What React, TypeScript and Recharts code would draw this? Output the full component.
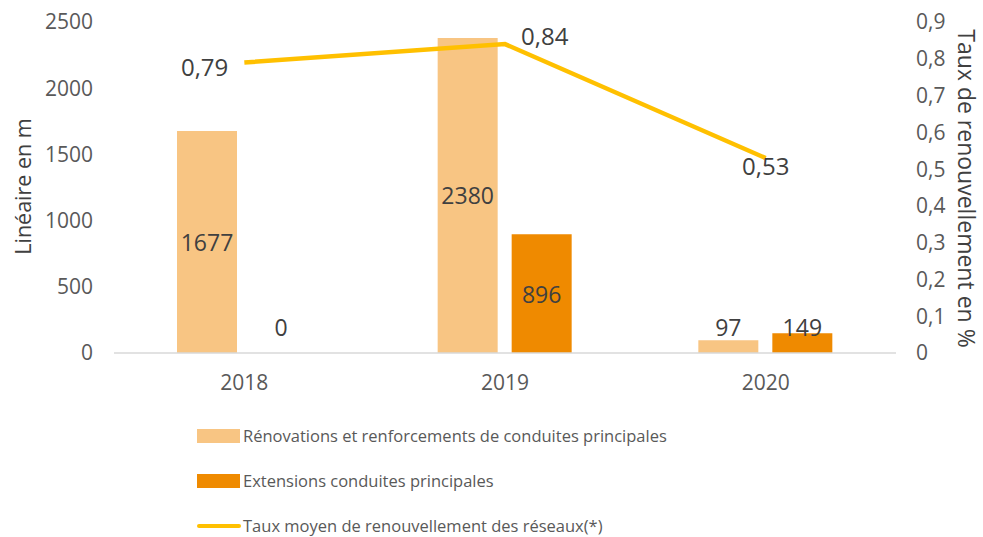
import React from 'react';
import { ComposedChart, Bar, Line, XAxis, YAxis, Legend, LabelList } from 'recharts';

const years = ['2018', '2019', '2020'];
const renovations = [1677, 2380, 97];
const extensions = [0, 896, 149];
const taux = [0.79, 0.84, 0.53];
const leftTicks = [0, 500, 1000, 1500, 2000, 2500];
const rightTicks = [0, 0.1, 0.2, 0.3, 0.4, 0.5, 0.6, 0.7, 0.8, 0.9];
const lineLabelPlacement = ['left', 'right', 'below'];

const seriesNames = {
  renovations: 'Rénovations et renforcements de conduites principales',
  extensions: 'Extensions conduites principales',
  taux: 'Taux moyen de renouvellement des réseaux(*)',
};

const data = years.map((year, i) => ({
  year,
  renovations: renovations[i],
  extensions: extensions[i],
  taux: taux[i],
}));

const FONT = "'Open Sans', 'Noto Sans', sans-serif";
const LIGHT = '#F8C583';
const DARK = '#EF8A00';
const YELLOW = '#FFC000';

const fmtComma = (v: number) => String(v).replace('.', ',');

const BarLabel = (props: any) => {
  const { x, y, width, height, value } = props;
  const bottom = Number(y) + Number(height);
  const cy = Math.min(Number(y) + Number(height) / 2, bottom - 26);
  return (
    <text
      x={Number(x) + Number(width) / 2}
      y={cy}
      textAnchor="middle"
      dominantBaseline="central"
      fill="#404040"
      fontSize={23}
      fontFamily={FONT}
    >
      {value}
    </text>
  );
};

const LineLabel = (props: any) => {
  const { x, y, value, index } = props;
  const place = lineLabelPlacement[index];
  let tx = Number(x);
  let ty = Number(y);
  let anchor: 'start' | 'middle' | 'end' = 'middle';
  if (place === 'left') {
    tx -= 16;
    ty += 4;
    anchor = 'end';
  } else if (place === 'right') {
    tx += 16;
    ty -= 9;
    anchor = 'start';
  } else {
    ty += 7;
  }
  return (
    <text
      x={tx}
      y={ty}
      textAnchor={anchor}
      dominantBaseline="central"
      fill="#404040"
      fontSize={24}
      fontFamily={FONT}
    >
      {fmtComma(value)}
    </text>
  );
};

const LegendContent = () => {
  const rows = [
    { key: 'renovations', type: 'rect', color: LIGHT },
    { key: 'extensions', type: 'rect', color: DARK },
    { key: 'taux', type: 'line', color: YELLOW },
  ];
  return (
    <div style={{ width: 983 }}>
      {rows.map((r) => (
        <div
          key={r.key}
          style={{ height: 45, display: 'flex', alignItems: 'center', paddingLeft: 197 }}
        >
          <svg width={44} height={14} style={{ display: 'block' }}>
            {r.type === 'rect' ? (
              <rect x={0} y={0} width={43} height={14} fill={r.color} />
            ) : (
              <line x1={2} y1={7} x2={42} y2={7} stroke={r.color} strokeWidth={4} strokeLinecap="round" />
            )}
          </svg>
          <span
            style={{
              marginLeft: 2,
              fontFamily: FONT,
              fontSize: 16.5,
              color: '#595959',
              whiteSpace: 'nowrap',
            }}
          >
            {(seriesNames as any)[r.key]}
          </span>
        </div>
      ))}
    </div>
  );
};

export default function App() {
  return (
    <div style={{ position: 'absolute', left: 0, top: 0, width: 983, height: 537, background: '#fff' }}>
      <ComposedChart
        width={983}
        height={537}
        data={data}
        margin={{ top: 22, right: 0, bottom: 124, left: 0 }}
        barGap={14}
      >
        <XAxis
          dataKey="year"
          height={60}
          axisLine={{ stroke: '#d9d9d9', strokeWidth: 1.5 }}
          tickLine={false}
          tickMargin={16}
          tick={{ fill: '#595959', fontSize: 21, fontFamily: FONT }}
        />
        <YAxis
          yAxisId="left"
          width={114}
          domain={[0, 2500]}
          ticks={leftTicks}
          axisLine={false}
          tickLine={false}
          tickMargin={15}
          tick={{ fill: '#595959', fontSize: 21, fontFamily: FONT }}
          label={{
            content: (p: any) => {
              const vb = p.viewBox;
              const cx = vb.x + 22;
              const cy = vb.y + vb.height / 2 - 1;
              return (
                <text
                  x={cx}
                  y={cy}
                  transform={`rotate(-90 ${cx} ${cy})`}
                  textAnchor="middle"
                  dominantBaseline="central"
                  fill="#404040"
                  fontSize={21.5}
                  fontFamily={FONT}
                >
                  Linéaire en m
                </text>
              );
            },
          }}
        />
        <YAxis
          yAxisId="right"
          orientation="right"
          width={87}
          domain={[0, 0.9]}
          ticks={rightTicks}
          tickFormatter={fmtComma}
          axisLine={false}
          tickLine={false}
          tickMargin={14}
          tick={{ fill: '#595959', fontSize: 21, fontFamily: FONT }}
          label={{
            content: (p: any) => {
              const vb = p.viewBox;
              const cx = vb.x + 71;
              const cy = vb.y + vb.height / 2 + 1;
              return (
                <text
                  x={cx}
                  y={cy}
                  transform={`rotate(90 ${cx} ${cy})`}
                  textAnchor="middle"
                  dominantBaseline="central"
                  fill="#404040"
                  fontSize={23}
                  fontFamily={FONT}
                >
                  Taux de renouvellement en %
                </text>
              );
            },
          }}
        />
        <Bar
          yAxisId="left"
          dataKey="renovations"
          name={seriesNames.renovations}
          fill={LIGHT}
          barSize={60}
          isAnimationActive={false}
        >
          <LabelList dataKey="renovations" content={BarLabel} />
        </Bar>
        <Bar
          yAxisId="left"
          dataKey="extensions"
          name={seriesNames.extensions}
          fill={DARK}
          barSize={60}
          minPointSize={(v: number) => (v === 0 ? 0.001 : 0)}
          isAnimationActive={false}
        >
          <LabelList dataKey="extensions" content={BarLabel} />
        </Bar>
        <Line
          yAxisId="right"
          dataKey="taux"
          name={seriesNames.taux}
          stroke={YELLOW}
          strokeWidth={4.5}
          dot={false}
          activeDot={false}
          isAnimationActive={false}
        >
          <LabelList dataKey="taux" content={LineLabel} />
        </Line>
        <Legend
          layout="horizontal"
          verticalAlign="middle"
          align="center"
          content={LegendContent}
          wrapperStyle={{ position: 'absolute', left: 0, top: 413, width: 983 }}
        />
      </ComposedChart>
    </div>
  );
}
